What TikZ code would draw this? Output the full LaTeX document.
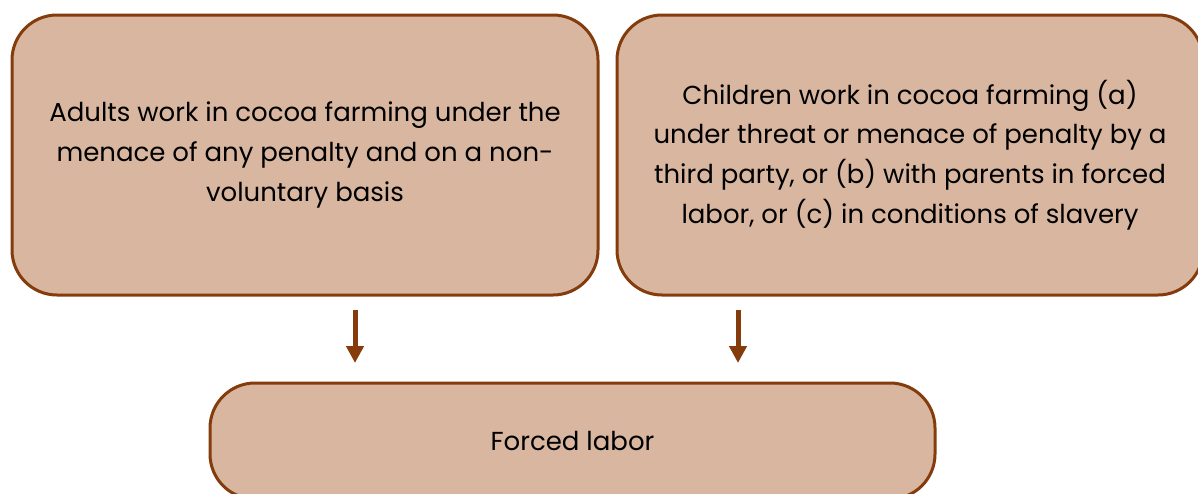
\documentclass[tikz,border=0pt]{standalone}
\usepackage{fontspec}
\setmainfont{Poppins}
\usetikzlibrary{arrows.meta}
\definecolor{boxfill}{RGB}{216,182,160}
\definecolor{boxline}{RGB}{132,60,12}
\tikzset{
  card/.style={draw=boxline, fill=boxfill, line width=3pt, rounded corners=45pt,
    align=center, inner sep=0pt, font=\fontsize{26}{39.7}\selectfont, text=black},
  flow/.style={draw=boxline, line width=5pt, -{Triangle[length=17pt,width=17pt]}}
}
\begin{document}
\begin{tikzpicture}[x=1pt,y=-1pt]
\useasboundingbox (0,0) rectangle (1198,493);
\clip (0,0) rectangle (1198,493);
\node[card, minimum width=586pt, minimum height=280pt] (adults) at (305,155)
  {Adults work in cocoa farming under the\\menace of any penalty and on a non-\\voluntary basis};
\node[card, minimum width=586pt, minimum height=280pt] (children) at (910,155)
  {Children work in cocoa farming (a)\\under threat or menace of penalty by a\\third party, or (b) with parents in forced\\labor, or (c) in conditions of slavery};
\node[card, minimum width=725pt, minimum height=116pt] (forced) at (572.5,441)
  {Forced labor};
\coordinate (a1) at (355,310);
\coordinate (a2) at (355,363);
\coordinate (b1) at (738,310);
\coordinate (b2) at (738,363);
\draw[flow] (a1) -- (a2);
\draw[flow] (b1) -- (b2);
\end{tikzpicture}
\end{document}
